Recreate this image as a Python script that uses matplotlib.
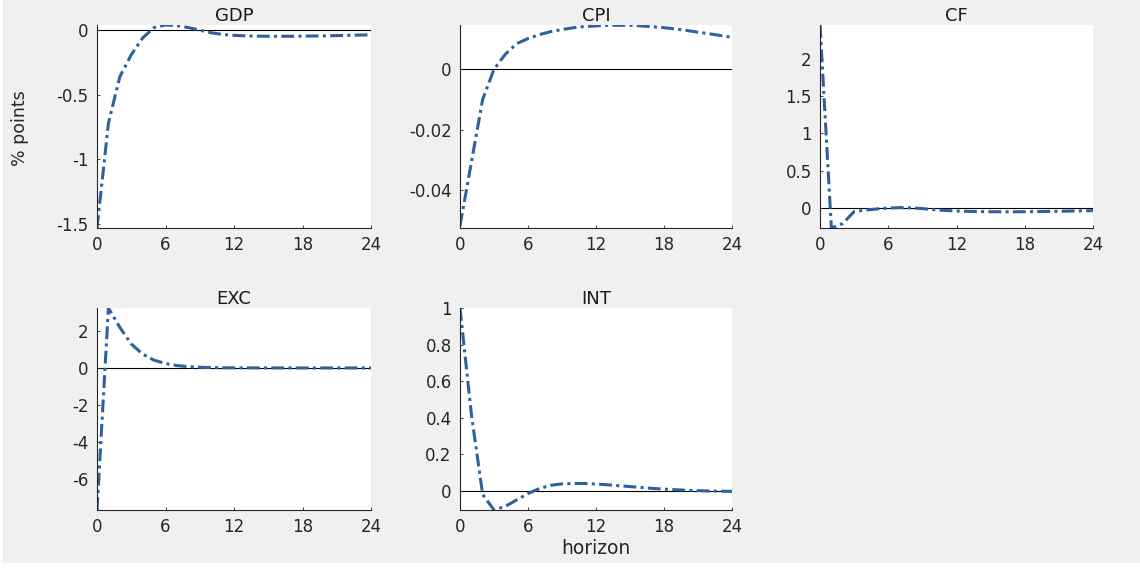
import matplotlib.pyplot as plt
from matplotlib.patches import Rectangle

plt.rcParams['font.family'] = ['DejaVu Sans']

horizon = list(range(25))

gdp = [-1.53, -0.72, -0.36, -0.19, -0.06, 0.02, 0.04, 0.035, 0.02, 0.0, -0.02, -0.033, -0.04,
       -0.044, -0.046, -0.047, -0.047, -0.047, -0.046, -0.045, -0.044, -0.042, -0.04, -0.038, -0.036]
cpi = [-0.052, -0.031, -0.010, 0.0, 0.005, 0.0085, 0.0102, 0.0115, 0.0125, 0.0132, 0.0138, 0.0142, 0.0144,
       0.0146, 0.0146, 0.0146, 0.0144, 0.0141, 0.0138, 0.0134, 0.0129, 0.0123, 0.0118, 0.0112, 0.0106]
cf = [2.45, -0.27, -0.21, -0.05, -0.03, -0.015, -0.003, 0.003, 0.0, -0.01, -0.025, -0.035, -0.042,
      -0.047, -0.05, -0.052, -0.053, -0.053, -0.052, -0.05, -0.048, -0.046, -0.043, -0.04, -0.038]
exc = [-7.7, 3.25, 2.2, 1.3, 0.75, 0.42, 0.24, 0.13, 0.07, 0.04, 0.02, 0.01, 0.006,
       0.004, 0.003, 0.002, 0.002, 0.001, 0.001, 0.0, 0.0, 0.0, 0.0, 0.0, 0.0]
intr = [1.0, 0.42, -0.02, -0.105, -0.085, -0.05, -0.015, 0.012, 0.03, 0.038, 0.04, 0.04, 0.037,
        0.033, 0.028, 0.023, 0.018, 0.013, 0.009, 0.006, 0.003, 0.001, -0.001, -0.002, -0.003]

titles = ['GDP', 'CPI', 'CF', 'EXC', 'INT']
series = [gdp, cpi, cf, exc, intr]
ylims = [(-1.53, 0.04), (-0.0527, 0.0147), (-0.27, 2.45), (-7.7, 3.25), (-0.105, 1.0)]
yticks = [[-1.5, -1, -0.5, 0], [-0.04, -0.02, 0], [0, 0.5, 1, 1.5, 2],
          [-6, -4, -2, 0, 2], [0, 0.2, 0.4, 0.6, 0.8, 1]]
yticklabels = [['-1.5', '-1', '-0.5', '0'], ['-0.04', '-0.02', '0'], ['0', '0.5', '1', '1.5', '2'],
               ['-6', '-4', '-2', '0', '2'], ['0', '0.2', '0.4', '0.6', '0.8', '1']]
xticks = [0, 6, 12, 18, 24]

W, H = 1140, 568
fig = plt.figure(figsize=(W / 100, H / 100), dpi=100, facecolor='white')
fig.patches.append(Rectangle((3 / W, 1 - 563 / H), 1, 563 / H, transform=fig.transFigure,
                             facecolor='#f0f0f0', edgecolor='none', zorder=-1))

# axes boxes in pixels: left, top, right, bottom
boxes = [(97, 25, 371, 228), (460, 25, 732, 228), (820, 25, 1093, 228),
         (97, 308, 371, 510), (460, 308, 732, 510)]

txt = '#262626'
for i, (l, t, r, b) in enumerate(boxes):
    ax = fig.add_axes([l / W, 1 - b / H, (r - l) / W, (b - t) / H])
    ax.axhline(0, color='black', linewidth=0.8, zorder=1)
    ax.plot(horizon, series[i], linestyle='-.', color='#2f619c', linewidth=2.2,
            dashes=(4.2, 1.4, 1.0, 1.4), zorder=2)
    ax.set_xlim(0, 24)
    ax.set_ylim(*ylims[i])
    ax.set_xticks(xticks)
    ax.set_yticks(yticks[i])
    ax.set_yticklabels(yticklabels[i])
    ax.spines['top'].set_visible(False)
    ax.spines['right'].set_visible(False)
    for s in ['left', 'bottom']:
        ax.spines[s].set_color(txt)
        ax.spines[s].set_linewidth(0.8)
    ax.tick_params(direction='in', length=2.5, width=0.6, colors=txt, labelsize=12, pad=6)
    ax.set_title(titles[i], fontsize=13, color='#1a1a1a', pad=2)

fig.text(20 / W, 1 - 128 / H, '% points', rotation=90, ha='center', va='center',
         fontsize=12.5, color=txt)
fig.text(596 / W, 1 - 548 / H, 'horizon', ha='center', va='center', fontsize=13.5, color=txt)

fig.savefig('out.png', dpi=100, facecolor=fig.get_facecolor())
